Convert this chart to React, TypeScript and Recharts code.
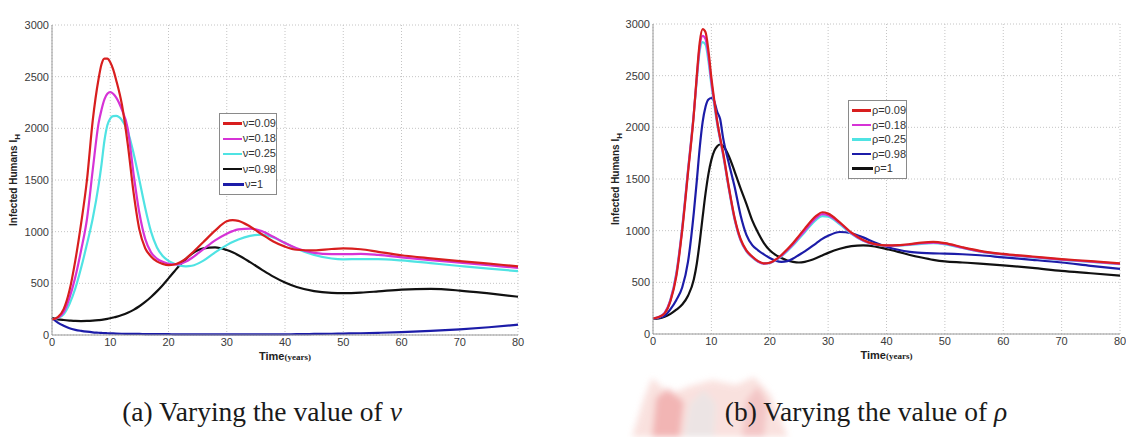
import React from 'react';
import { LineChart, Line, XAxis, YAxis, CartesianGrid, Legend } from 'recharts';

// ---------- (a) pre-exposure vaccine ν ----------
const TIME_A = [0, 1, 2, 3, 4, 5, 6, 7, 8, 8.5, 9, 9.5, 10, 10.5, 11, 12, 13, 14, 15, 16, 17, 18, 19, 20, 21, 22, 23, 24, 26, 28, 30, 31, 32, 34, 36, 38, 40, 42, 45, 48, 50, 53, 56, 60, 65, 70, 75, 80];
const NU_009 = [150, 172, 250, 430, 720, 1080, 1500, 2080, 2480, 2620, 2675, 2675, 2640, 2570, 2470, 2230, 1850, 1380, 1020, 840, 760, 712, 688, 676, 682, 705, 740, 790, 900, 1010, 1100, 1112, 1105, 1050, 975, 905, 855, 825, 818, 832, 838, 830, 805, 772, 742, 715, 690, 665];
const NU_018 = [150, 168, 220, 360, 560, 820, 1120, 1600, 2050, 2180, 2280, 2335, 2350, 2335, 2300, 2180, 2000, 1560, 1180, 930, 800, 740, 708, 690, 683, 688, 710, 745, 830, 915, 980, 1005, 1022, 1030, 1005, 950, 890, 840, 795, 782, 782, 785, 775, 752, 725, 700, 675, 650];
const NU_025 = [150, 165, 200, 300, 450, 650, 880, 1130, 1450, 1650, 1880, 2030, 2095, 2118, 2120, 2080, 1970, 1760, 1500, 1230, 1000, 850, 765, 718, 690, 672, 665, 670, 720, 800, 870, 900, 925, 960, 972, 945, 890, 835, 775, 740, 732, 735, 735, 722, 695, 668, 642, 618];
const NU_098 = [165, 152, 145, 140, 136, 135, 136, 139, 144, 147, 151, 156, 162, 169, 176, 193, 215, 243, 278, 320, 368, 422, 482, 548, 615, 680, 737, 785, 838, 848, 822, 800, 772, 705, 633, 565, 508, 465, 425, 408, 405, 410, 422, 440, 446, 430, 402, 370];
const NU_100 = [165, 120, 90, 65, 50, 40, 32, 26, 22, 20, 18, 17, 16, 15, 14, 12, 11, 10, 10, 9, 9, 8, 8, 8, 7, 7, 7, 6, 6, 6, 6, 6, 6, 6, 6, 6, 7, 8, 10, 12, 14, 17, 21, 28, 40, 55, 75, 100];

// ---------- (b) post-exposure vaccine ρ ----------
const TIME_B = [0, 1, 2, 3, 4, 5, 6, 7, 7.5, 8, 8.5, 9, 9.5, 10, 10.5, 11, 11.5, 12, 13, 14, 15, 16, 17, 18, 19, 20, 21, 22, 23, 24, 25, 26, 28, 29, 30, 32, 34, 36, 38, 40, 42, 44, 46, 48, 50, 53, 56, 60, 65, 70, 75, 80];
const RHO_009 = [150, 165, 200, 320, 560, 1000, 1560, 2130, 2500, 2820, 2950, 2920, 2740, 2480, 2260, 2060, 1900, 1760, 1420, 1120, 920, 810, 750, 705, 683, 690, 720, 765, 820, 880, 950, 1020, 1145, 1178, 1165, 1080, 980, 910, 870, 858, 860, 870, 885, 892, 880, 840, 805, 775, 750, 725, 705, 683];
const RHO_018 = [150, 165, 205, 330, 580, 1020, 1580, 2140, 2480, 2780, 2885, 2855, 2690, 2440, 2240, 2045, 1890, 1745, 1410, 1110, 910, 805, 745, 702, 682, 688, 716, 758, 810, 868, 935, 1000, 1125, 1160, 1150, 1072, 975, 905, 866, 855, 857, 866, 878, 885, 874, 836, 800, 770, 745, 720, 700, 678];
const RHO_025 = [150, 165, 205, 335, 590, 1030, 1590, 2140, 2460, 2740, 2825, 2800, 2640, 2410, 2215, 2030, 1880, 1735, 1400, 1100, 905, 800, 742, 700, 682, 688, 714, 752, 802, 858, 922, 985, 1108, 1140, 1135, 1062, 970, 902, 864, 853, 855, 862, 872, 878, 868, 832, 797, 768, 742, 718, 698, 676];
const RHO_098 = [150, 155, 175, 240, 330, 450, 700, 1180, 1480, 1800, 2050, 2200, 2270, 2284, 2250, 2150, 2080, 1900, 1650, 1420, 1150, 960, 860, 810, 770, 735, 710, 698, 705, 730, 765, 800, 880, 920, 950, 987, 975, 935, 885, 845, 815, 795, 785, 780, 778, 772, 762, 742, 718, 692, 660, 630];
const RHO_100 = [145, 150, 166, 195, 235, 285, 370, 530, 680, 890, 1130, 1360, 1550, 1685, 1772, 1818, 1834, 1820, 1720, 1570, 1410, 1260, 1100, 980, 880, 810, 765, 735, 712, 698, 692, 698, 735, 760, 785, 825, 850, 857, 848, 822, 795, 765, 740, 718, 702, 692, 682, 665, 640, 610, 588, 565];

const X_TICKS = [0, 10, 20, 30, 40, 50, 60, 70, 80];
const Y_TICKS = [0, 500, 1000, 1500, 2000, 2500, 3000];

const RED = '#d81e1e';
const MAGENTA = '#d633d6';
const CYAN = '#4fe3e3';
const BLACK = '#111111';
const NAVY = '#1c1ca8';

type Series = { key: string; name: string; color: string; values: number[] };

const SERIES_A: Series[] = [
  { key: 'a1', name: 'ν=0.09', color: RED, values: NU_009 },
  { key: 'a2', name: 'ν=0.18', color: MAGENTA, values: NU_018 },
  { key: 'a3', name: 'ν=0.25', color: CYAN, values: NU_025 },
  { key: 'a4', name: 'ν=0.98', color: BLACK, values: NU_098 },
  { key: 'a5', name: 'ν=1', color: NAVY, values: NU_100 },
];

const SERIES_B: Series[] = [
  { key: 'b1', name: 'ρ=0.09', color: RED, values: RHO_009 },
  { key: 'b2', name: 'ρ=0.18', color: MAGENTA, values: RHO_018 },
  { key: 'b3', name: 'ρ=0.25', color: CYAN, values: RHO_025 },
  { key: 'b4', name: 'ρ=0.98', color: NAVY, values: RHO_098 },
  { key: 'b5', name: 'ρ=1', color: BLACK, values: RHO_100 },
];

const buildRows = (time: number[], series: Series[]) =>
  time.map((t, i) => {
    const row: Record<string, number> = { t };
    series.forEach((s) => {
      row[s.key] = s.values[i];
    });
    return row;
  });

const SANS = '"Liberation Sans", Arial, sans-serif';
const SERIF = '"Liberation Serif", "Times New Roman", serif';
const FRAME = '#9a9a9a';

type PanelProps = {
  left: number;
  width: number;
  height: number;
  margin: { top: number; right: number; bottom: number; left: number };
  time: number[];
  series: Series[];
  drawOrder: number[];
  title: string;
  titleDy: number;
  yLabelDx: number;
  legendPos: { left: number; top: number; width: number; rowH: number };
};

function LegendBox({ series, width, rowH }: { series: Series[]; width: number; rowH: number }) {
  return (
    <div
      style={{
        width,
        boxSizing: 'border-box',
        border: '1px solid #8a8a8a',
        background: '#fff',
        padding: '2px 0 2px 3px',
        fontFamily: SANS,
        fontSize: 11,
        color: '#333',
      }}
    >
      {series.map((s) => (
        <div key={s.key} style={{ display: 'flex', alignItems: 'center', height: rowH }}>
          <div style={{ width: 21, height: 2.5, background: s.color, marginRight: 1 }} />
          <span style={{ lineHeight: `${rowH}px` }}>{s.name}</span>
        </div>
      ))}
    </div>
  );
}

function Panel(p: PanelProps) {
  const rows = buildRows(p.time, p.series);
  const tickStyle = { fontSize: 11, fill: '#3a3a3a', fontFamily: SANS };
  return (
    <div style={{ position: 'absolute', left: p.left, top: 0 }}>
      <LineChart width={p.width} height={p.height} data={rows} margin={p.margin}>
        <CartesianGrid stroke="#c4c4c4" strokeDasharray="1 2" />
        <XAxis
          dataKey="t"
          type="number"
          domain={[0, 80]}
          ticks={X_TICKS}
          height={20}
          tickLine={false}
          tickSize={0}
          tickMargin={3}
          axisLine={{ stroke: FRAME }}
          tick={tickStyle}
          label={{
            content: (lp: any) => {
              const vb = lp.viewBox;
              return (
                <text x={vb.x + vb.width / 2} y={vb.y + 25} textAnchor="middle" fill="#222">
                  <tspan fontFamily={SANS} fontWeight="bold" fontSize={11}>Time</tspan>
                  <tspan fontFamily={SERIF} fontWeight="bold" fontSize={9}>(years)</tspan>
                </text>
              );
            },
          }}
        />
        <XAxis
          xAxisId="top"
          orientation="top"
          dataKey="t"
          type="number"
          domain={[0, 80]}
          ticks={X_TICKS}
          height={0}
          tick={false}
          tickLine={false}
          axisLine={{ stroke: FRAME }}
          label={{
            content: (lp: any) => {
              const vb = lp.viewBox;
              return (
                <text
                  x={vb.x + vb.width / 2}
                  y={vb.y + p.titleDy}
                  textAnchor="middle"
                  fontFamily={SANS}
                  fontWeight="bold"
                  fontSize={10}
                  fill="#222"
                >
                  {p.title}
                </text>
              );
            },
          }}
        />
        <YAxis
          type="number"
          domain={[0, 3000]}
          ticks={Y_TICKS}
          width={40}
          tickLine={false}
          tickSize={0}
          tickMargin={3}
          axisLine={{ stroke: FRAME }}
          tick={tickStyle}
          label={{
            content: (lp: any) => {
              const vb = lp.viewBox;
              const cx = vb.x + p.yLabelDx;
              const cy = vb.y + vb.height / 2;
              return (
                <text
                  x={cx}
                  y={cy}
                  transform={`rotate(-90 ${cx} ${cy})`}
                  textAnchor="middle"
                  fontFamily={SANS}
                  fontWeight="bold"
                  fontSize={10}
                  fill="#222"
                >
                  Infected Humans I
                  <tspan fontSize={8} dy={3}>H</tspan>
                </text>
              );
            },
          }}
        />
        <YAxis
          yAxisId="right"
          orientation="right"
          type="number"
          domain={[0, 3000]}
          ticks={Y_TICKS}
          width={0}
          tick={false}
          tickLine={false}
          axisLine={{ stroke: FRAME }}
        />
        <Legend
          layout="vertical"
          align="center"
          verticalAlign="middle"
          wrapperStyle={{ left: p.legendPos.left, top: p.legendPos.top, width: p.legendPos.width }}
          content={() => <LegendBox series={p.series} width={p.legendPos.width} rowH={p.legendPos.rowH} />}
        />
        {p.drawOrder.map((i) => {
          const s = p.series[i];
          return (
            <Line
              key={s.key}
              dataKey={s.key}
              name={s.name}
              type="monotone"
              stroke={s.color}
              strokeWidth={2.2}
              dot={false}
              activeDot={false}
              isAnimationActive={false}
            />
          );
        })}
      </LineChart>
    </div>
  );
}

export default function App() {
  return (
    <div
      style={{
        position: 'absolute',
        left: 0,
        top: 0,
        width: 1126,
        height: 437,
        background: '#fff',
        overflow: 'hidden',
      }}
    >
      {/* faint crest printed behind the captions */}
      <svg width={1126} height={437} style={{ position: 'absolute', left: 0, top: 0 }}>
        <defs>
          <filter id="soft" x="-20%" y="-20%" width="140%" height="140%">
            <feGaussianBlur stdDeviation="3" />
          </filter>
        </defs>
        <g filter="url(#soft)" opacity={0.75}>
          <path
            d="M632 437 L644 398 L652 378 L670 394 L690 386 L712 380 L736 385 L754 377 L770 394 L788 437 Z"
            fill="#f8d8d4"
          />
          <path d="M684 437 L690 404 L704 390 L716 404 L714 437 Z" fill="#e6dcdc" />
          <path d="M652 437 L656 398 L668 388 L684 402 L680 437 Z" fill="#e87676" opacity={0.6} />
          <path d="M742 437 L746 400 L758 386 L768 404 L764 437 Z" fill="#f0b4b4" />
        </g>
      </svg>

      <Panel
        left={0}
        width={560}
        height={370}
        margin={{ top: 25, right: 42, bottom: 15, left: 12 }}
        time={TIME_A}
        series={SERIES_A}
        drawOrder={[4, 3, 2, 1, 0]}
        title="VARYING PRE-EXPOSURE VACCINE (ν)"
        titleDy={-8}
        yLabelDx={5}
        legendPos={{ left: 219, top: 113, width: 58, rowH: 15.2 }}
      />
      <Panel
        left={560}
        width={566}
        height={370}
        margin={{ top: 24, right: 6, bottom: 16, left: 53 }}
        time={TIME_B}
        series={SERIES_B}
        drawOrder={[4, 3, 2, 1, 0]}
        title="VARYING POST-EXPOSURE VACCINE (ρ)"
        titleDy={-10}
        yLabelDx={6}
        legendPos={{ left: 288, top: 100, width: 59, rowH: 14.6 }}
      />

      <svg width={1126} height={437} style={{ position: 'absolute', left: 0, top: 0, pointerEvents: 'none' }}>
        <text x={262} y={421} textAnchor="middle" fontFamily={SERIF} fontSize={27.5} fill="#1a1a1a">
          (a) Varying the value of <tspan fontStyle="italic">ν</tspan>
        </text>
        <text x={866} y={421} textAnchor="middle" fontFamily={SERIF} fontSize={27.5} fill="#1a1a1a">
          (b) Varying the value of <tspan fontStyle="italic">ρ</tspan>
        </text>
      </svg>
    </div>
  );
}
